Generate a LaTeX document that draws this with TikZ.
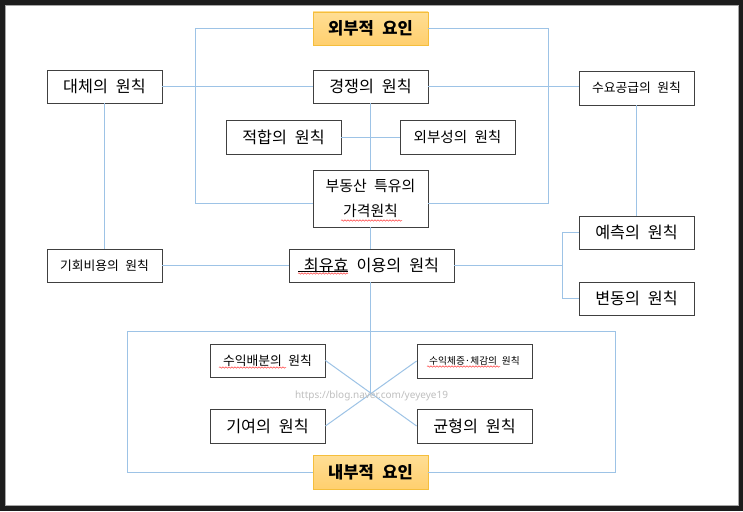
\documentclass[tikz,border=0pt]{standalone}
\usepackage{fontspec}
\newfontfamily\kr[WordSpace=2.2]{Noto Sans CJK KR}
\newfontfamily\wm{Noto Sans}
\usetikzlibrary{decorations.pathmorphing}
\definecolor{lnblue}{RGB}{157,195,230}
\definecolor{bxgray}{RGB}{64,64,64}
\definecolor{ortop}{RGB}{255,222,148}
\definecolor{orbot}{RGB}{255,207,110}
\definecolor{orbrd}{RGB}{245,190,60}
\definecolor{framecol}{RGB}{28,28,28}
\begin{document}
\begin{tikzpicture}[x=1pt,y=-1pt,
 box/.style={draw=bxgray, line width=0.8pt, fill=white, inner sep=0pt,
   minimum width=115pt, minimum height=33pt, font=\kr\fontsize{16.2}{20}\selectfont},
 midtxt/.style={font=\kr\fontsize{14.6}{18}\selectfont},
 smalltxt/.style={font=\kr\fontsize{12.8}{16}\selectfont},
 tinytxt/.style={font=\kr\fontsize{9.7}{12}\selectfont},
 factor/.style={draw=orbrd, line width=0.8pt, top color=ortop, bottom color=orbot,
   inner sep=0pt, minimum width=115pt, minimum height=33pt,
   font=\kr\bfseries\fontsize{16.6}{20}\selectfont},
 link/.style={draw=lnblue, line width=1pt},
 spell/.style={draw=red!75, line width=0.5pt, decorate,
   decoration={snake, amplitude=0.7pt, segment length=3pt}}
]
\useasboundingbox (0,0) rectangle (743,511);
\fill[framecol] (0,0) rectangle (743,511);
\fill[white] (5,5) rectangle (738,505);
\draw[black!35, line width=0.8pt] (5,5) rectangle (738,505);

% nodes
\node[factor] (ext) at (370.5,28.5) {외부적 요인};
\node[box] (subst) at (104.5,86.5) {대체의 원칙};
\node[box] (comp) at (370.5,86.5) {경쟁의 원칙};
\node[box, minimum height=34pt] (fit) at (283.5,137.5) {적합의 원칙};
\node[box, midtxt, minimum height=34pt] (exto) at (457.5,137.5) {외부성의 원칙};
\node[box, minimum height=57pt, align=center, font=\kr\fontsize{14.9}{25}\selectfont] (spec) at (370.5,198.5) {부동산 특유의\\가격원칙};
\node[box, smalltxt, minimum height=34pt] (supply) at (636.5,88) {수요공급의 원칙};
\node[box] (pred) at (636.5,232.5) {예측의 원칙};
\node[box, smalltxt] (opp) at (104.5,265.5) {기회비용의 원칙};
\node[box, minimum width=165pt] (hbu) at (371.5,265.5) {최유효 이용의 원칙};
\node[box] (chg) at (636.5,298.5) {변동의 원칙};
\node[box, smalltxt] (dist) at (267.5,360.5) {수익배분의 원칙};
\node[box, tinytxt, minimum height=34pt] (incr) at (474.5,361) {수익체증·체감의 원칙};
\node[box, minimum height=34pt] (contr) at (267.5,426) {기여의 원칙};
\node[box, minimum height=34pt] (bal) at (474.5,426) {균형의 원칙};
\node[factor, minimum height=34pt] (int) at (370.5,472.5) {내부적 요인};

% helper coordinates
\coordinate (UBL) at (195.5,203.5);
\coordinate (UBR) at (548.5,203.5);
\coordinate (J) at (562.5,265.5);
\coordinate (LTL) at (127.5,331.5);
\coordinate (LTR) at (615.5,331.5);
\coordinate (X) at (370.5,394);

% connectors
\draw[link] (ext.west) -| (UBL) -- ([yshift=-5pt]spec.west);
\draw[link] (ext.east) -| (UBR) -- ([yshift=-5pt]spec.east);
\draw[link] (subst.east) -- (comp.west);
\draw[link] (comp.east) -- (comp.east -| supply.west);
\draw[link] (comp.south) -- (spec.north);
\draw[link] (fit.east) -- (fit.east -| comp.south);
\draw[link] (exto.west) -- (exto.west -| comp.south);
\draw[link] (spec.south) -- (spec.south |- hbu.north);
\draw[link] (spec.south |- hbu.south) -- (X);
\draw[link] (subst.south) -- (opp.north);
\draw[link] (supply.south) -- (pred.north);
\draw[link] (opp.east) -- (hbu.west);
\draw[link] (hbu.east) -- (J);
\draw[link] (pred.west) -| (J) |- (chg.west);
\draw[link] (int.west) -| (LTL) -- (LTR) |- (int.east);
\draw[link] (dist.east) -- (bal.west);
\draw[link] (contr.east) -- (incr.west);

% watermark
\node[font=\wm\fontsize{10}{12}\selectfont, text=black!25] (wmk) at (371.5,396) {https://blog.naver.com/yeyeye19};

% spell-check marks
\draw[black, line width=0.6pt] (298,271.5) -- (348,271.5);
\draw[spell] (298,273.5) -- (348,273.5);
\draw[spell] (341,220.5) -- (402,220.5);
\draw[spell] (219,367.5) -- (286,367.5);
\draw[spell] (427,366.5) -- (500,366.5);
\end{tikzpicture}
\end{document}
